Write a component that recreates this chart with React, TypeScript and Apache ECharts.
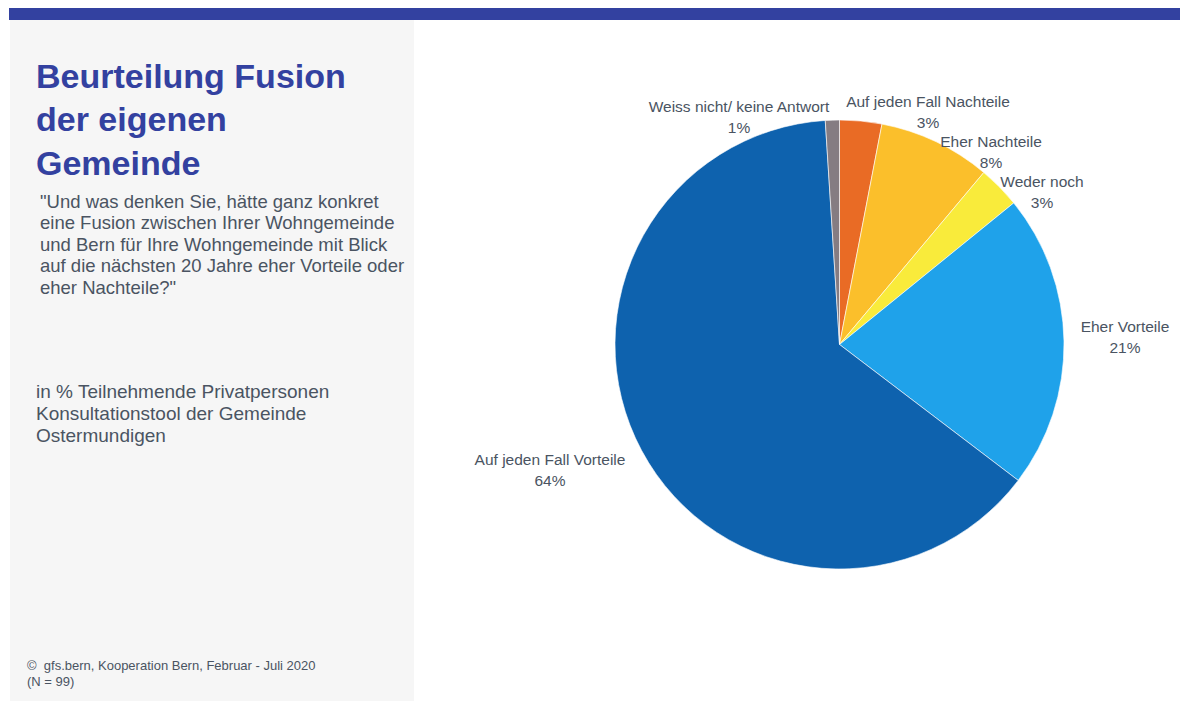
import React, { useEffect, useRef } from "react";
import * as echarts from "echarts";

const categories = [
  "Auf jeden Fall Nachteile",
  "Eher Nachteile",
  "Weder noch",
  "Eher Vorteile",
  "Auf jeden Fall Vorteile",
  "Weiss nicht/ keine Antwort",
];
const shares = [3.03, 8.08, 3.03, 21.21, 63.64, 1.01];
const sliceColors = ["#E96B25", "#FBBF2B", "#F9EB3B", "#1FA2EA", "#0E62AE", "#857C82"];

const titleText = "Beurteilung Fusion\nder eigenen\nGemeinde";
const questionText =
  '"Und was denken Sie, hätte ganz konkret\neine Fusion zwischen Ihrer Wohngemeinde\nund Bern für Ihre Wohngemeinde mit Blick\nauf die nächsten 20 Jahre eher Vorteile oder\neher Nachteile?"';
const baseText = "in % Teilnehmende Privatpersonen\nKonsultationstool der Gemeinde\nOstermundigen";
const footerText = "©  gfs.bern, Kooperation Bern, Februar - Juli 2020\n(N = 99)";

// label anchor positions (px) for each slice label, same order as categories
const labelAnchors: [number, number][] = [
  [928, 112],
  [991, 152],
  [1042, 192],
  [1125, 337],
  [550, 470],
  [739, 117],
];

const FONT = "'Liberation Sans', Arial, Helvetica, sans-serif";
const TEXT_GREY = "#4A5462";
const NAVY = "#3341A0";

export default function App() {
  const ref = useRef<HTMLDivElement>(null);
  useEffect(() => {
    if (!ref.current) return;
    const chart = echarts.init(ref.current, null, { renderer: "svg" });
    chart.setOption({
      animation: false,
      backgroundColor: "#ffffff",
      graphic: [
        { type: "rect", shape: { x: 9, y: 8, width: 1171, height: 12 }, style: { fill: NAVY }, z: -1 },
        { type: "rect", shape: { x: 10, y: 20, width: 404, height: 681 }, style: { fill: "#F6F6F6" }, z: -1 },
        {
          type: "text",
          x: 36,
          y: 119,
          style: {
            text: titleText,
            font: `bold 34px ${FONT}`,
            fill: NAVY,
            lineHeight: 43.5,
            verticalAlign: "middle",
            align: "left",
          },
        },
        {
          type: "text",
          x: 40,
          y: 244,
          style: {
            text: questionText,
            font: `18.5px ${FONT}`,
            fill: TEXT_GREY,
            lineHeight: 21.5,
            verticalAlign: "middle",
            align: "left",
          },
        },
        {
          type: "text",
          x: 36,
          y: 413,
          style: {
            text: baseText,
            font: `19px ${FONT}`,
            fill: TEXT_GREY,
            lineHeight: 22,
            verticalAlign: "middle",
            align: "left",
          },
        },
        {
          type: "text",
          x: 27,
          y: 673,
          style: {
            text: footerText,
            font: `13px ${FONT}`,
            fill: TEXT_GREY,
            lineHeight: 16,
            verticalAlign: "middle",
            align: "left",
          },
        },
      ],
      series: [
        {
          type: "pie",
          center: [839.5, 344.5],
          radius: 224.5,
          startAngle: 90,
          clockwise: true,
          avoidLabelOverlap: false,
          itemStyle: { borderColor: "#ffffff", borderWidth: 0.6 },
          label: {
            show: true,
            position: "outside",
            formatter: (p: any) => `${p.name}\n${Math.round(p.percent)}%`,
            fontFamily: FONT,
            fontSize: 15.5,
            lineHeight: 21,
            color: TEXT_GREY,
            align: "center",
          },
          labelLine: { show: false },
          labelLayout: (params: any) => {
            const a = labelAnchors[params.dataIndex];
            return { x: a[0], y: a[1], align: "center", verticalAlign: "middle" };
          },
          emphasis: { disabled: true },
          data: categories.map((name, i) => ({
            name,
            value: shares[i],
            itemStyle: { color: sliceColors[i] },
          })),
        },
      ],
    });
    return () => chart.dispose();
  }, []);
  return (
    <div
      ref={ref}
      style={{ position: "fixed", left: 0, top: 0, width: 1180, height: 701 }}
    />
  );
}
